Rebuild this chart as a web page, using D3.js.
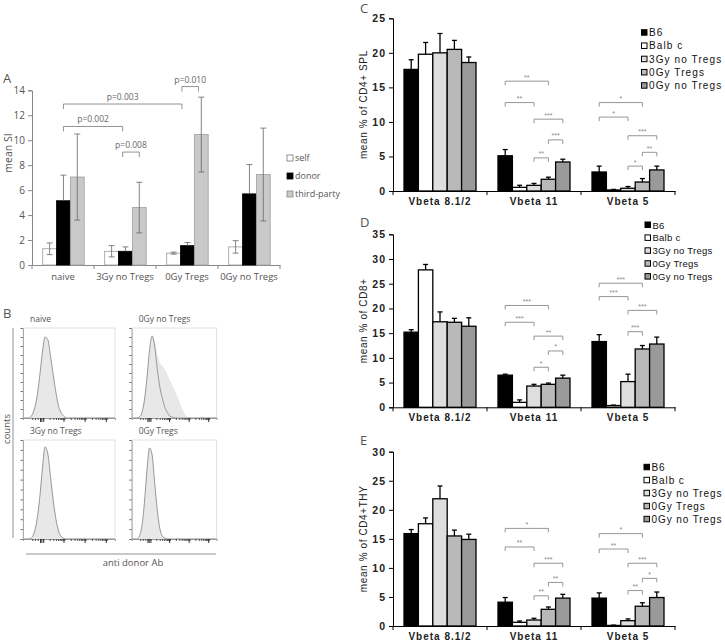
<!DOCTYPE html>
<html><head><meta charset="utf-8">
<script src="https://cdn.jsdelivr.net/npm/d3@7"></script>
<style>body{margin:0;background:#fff} svg{display:block}</style>
</head><body>
<svg id="c" width="725" height="641"></svg>
<script>
// ---------- Panel A data ----------
const aCategories = ["naive", "3Gy no Tregs", "0Gy Tregs", "0Gy no Tregs"];
const aSeries = ["self", "donor", "third-party"];
const aSelf = [1.3, 1.1, 0.95, 1.45];
const aSelfErr = [0.47, 0.45, 0.08, 0.5];
const aDonor = [5.15, 1.1, 1.55, 5.7];
const aDonorErr = [2.05, 0.35, 0.25, 2.35];
const aThird = [7.05, 4.6, 10.45, 7.25];
const aThirdErr = [3.45, 2.03, 3.0, 3.72];
const aYTicks = [0, 2, 4, 6, 8, 10, 12, 14];
// brackets: [category, position (bar units), category, position, y value, label]
const aBrackets = [
  ["0Gy Tregs", 1.1, "0Gy Tregs", 2.3, 14.3, "p=0.010"],
  ["naive", 1.5, "0Gy Tregs", 1.1, 12.9, "p=0.003"],
  ["naive", 1.5, "3Gy no Tregs", 1.3, 11.1, "p=0.002"],
  ["3Gy no Tregs", 1.3, "3Gy no Tregs", 2.5, 9.05, "p=0.008"]
];

// ---------- Panel B data (histograms, % of box) ----------
const histX = [0, 6, 9, 12, 15, 18, 21, 24, 27, 30, 33, 36, 39, 42, 45, 48, 51, 54, 57, 60, 63, 66, 70, 100];
const naiveFill = [0, 0, 2, 9, 22, 45, 72, 90, 87, 68, 47, 27, 12, 5, 1.5, 0, 0, 0, 0, 0, 0, 0, 0, 0];
const noTregsFill = [0, 0, 1, 6, 20, 45, 76, 92, 86, 72, 62, 58, 54, 48, 42, 36, 30, 23, 16, 9, 4, 1, 0, 0];
const noTregsLine = [0, 0, 1, 6, 20, 45, 76, 91, 80, 55, 35, 22, 12, 6, 2, 1, 0, 0, 0, 0, 0, 0, 0, 0];
const gy3NoTregsFill = [0, 0, 1, 6, 18, 40, 70, 93, 86, 62, 38, 19, 7, 2, 0.5, 0, 0, 0, 0, 0, 0, 0, 0, 0];
const gy0TregsFill = [0, 0, 3, 13, 37, 70, 92, 85, 57, 30, 11, 3, 1, 0, 0, 0, 0, 0, 0, 0, 0, 0, 0, 0];

// ---------- Panels C, D, E data ----------
const vCategories = ["Vbeta 8.1/2", "Vbeta 11", "Vbeta 5"];
const vSeries = ["B6", "Balb c", "3Gy no Tregs", "0Gy Tregs", "0Gy no Tregs"];
const vColors = ["#000000", "#ffffff", "#dedede", "#b9b9b9", "#9a9a9a"];
// rows = series, columns = categories
const splMeans = [[17.6, 5.1, 2.75], [19.8, 0.53, 0.15], [20.0, 0.82, 0.4], [20.5, 1.7, 1.3], [18.6, 4.2, 3.05]];
const splErr = [[1.4, 0.9, 0.85], [1.7, 0.3, 0.08], [2.8, 0.28, 0.25], [1.3, 0.3, 0.5], [0.8, 0.4, 0.55]];
const cd8Means = [[15.2, 6.5, 13.3], [27.8, 1.0, 0.35], [17.3, 4.3, 5.2], [17.2, 4.65, 11.8], [16.4, 5.9, 12.8]];
const cd8Err = [[0.5, 0.2, 1.4], [1.1, 0.5, 0.1], [2.0, 0.35, 1.5], [0.8, 0.25, 0.7], [1.7, 0.6, 1.4]];
const thyMeans = [[15.9, 4.1, 4.8], [17.6, 0.63, 0.1], [21.9, 1.03, 0.92], [15.5, 2.87, 3.4], [14.9, 4.8, 4.9]];
const thyErr = [[0.7, 0.8, 0.9], [1.0, 0.23, 0.05], [2.2, 0.3, 0.3], [1.0, 0.4, 0.6], [0.9, 0.65, 0.95]];
// brackets: [category index, from series, to series, y value, label]
const splBrackets = [[1,0,3,15.9,"**"],[1,0,2,12.8,"**"],[1,2,4,10.4,"***"],[1,3,4,7.4,"***"],[1,2,3,4.8,"**"],
  [2,0,3,12.8,"*"],[2,0,2,10.7,"*"],[2,2,4,8.0,"***"],[2,3,4,5.6,"**"],[2,2,3,3.6,"*"]];
const cd8Brackets = [[1,0,3,20.6,"***"],[1,0,2,17.2,"***"],[1,2,4,14.4,"**"],[1,3,4,11.4,"*"],[1,2,3,8.1,"*"],
  [2,0,3,25.1,"***"],[2,0,2,22.4,"***"],[2,2,4,19.6,"***"],[2,2,3,15.3,"***"]];
const thyBrackets = [[1,0,3,16.8,"*"],[1,0,2,13.6,"**"],[1,2,4,10.8,"***"],[1,3,4,7.5,"**"],[1,2,3,5.2,"**"],
  [2,0,3,15.9,"*"],[2,0,2,13.25,"**"],[2,2,4,10.8,"***"],[2,3,4,8.2,"*"],[2,2,3,6.1,"**"]];

const svg = d3.select("#c");
const FA = "'Open Sans', sans-serif";
const FV = "'Liberation Sans', Arial, sans-serif";

function letter(t, x, y) {
  svg.append("text").attr("x", x).attr("y", y).text(t)
    .attr("font-family", FA).attr("font-size", 13).attr("fill", "#555");
}

// ================= Panel A =================
(function () {
  const y = d3.scaleLinear().domain([0, 14]).range([265, 90.3]);
  const x0 = d3.scaleBand().domain(aCategories).range([32, 280]);
  const x1 = d3.scaleBand().domain(aSeries).range([10.7, 52.2]);
  const bw = x1.bandwidth();
  const g = svg.append("g");
  const yAx = g.append("g").attr("transform", "translate(32,0)")
    .call(d3.axisLeft(y).tickValues(aYTicks).tickSize(4).tickPadding(3));
  yAx.select(".domain").attr("stroke", "#888");
  yAx.selectAll(".tick line").attr("stroke", "#888");
  yAx.selectAll("text").attr("font-family", FA).attr("font-size", 10).attr("fill", "#555");
  // x axis
  const xAx = g.append("g").attr("transform", "translate(0,265)")
    .call(d3.axisBottom(x0).tickSize(0).tickPadding(8));
  xAx.select(".domain").attr("stroke", "#888");
  xAx.selectAll("text").attr("font-family", FA).attr("font-size", 9.5).attr("fill", "#555");
  const bounds = aCategories.map(c => x0(c)).concat([x0.range()[1]]);
  g.selectAll(".xt").data(bounds).enter().append("line")
    .attr("x1", d => d).attr("x2", d => d).attr("y1", 265).attr("y2", 269).attr("stroke", "#888");

  const series = [
    { vals: aSelf, err: aSelfErr, fill: "#fff", stroke: "#999", lo: true },
    { vals: aDonor, err: aDonorErr, fill: "#000", stroke: "#000", lo: false },
    { vals: aThird, err: aThirdErr, fill: "#c9c9c9", stroke: "#a0a0a0", lo: true }
  ];
  series.forEach((s, si) => {
    aCategories.forEach((c, ci) => {
      const bx = x0(c) + x1(aSeries[si]);
      g.append("rect").attr("x", bx).attr("y", y(s.vals[ci])).attr("width", bw)
        .attr("height", y(0) - y(s.vals[ci])).attr("fill", s.fill).attr("stroke", s.stroke).attr("stroke-width", 0.8);
    });
  });
  series.forEach((s, si) => {
    aCategories.forEach((c, ci) => {
      const cx = x0(c) + x1(aSeries[si]) + bw / 2;
      const hi = s.vals[ci] + s.err[ci];
      const lo = s.lo ? s.vals[ci] - s.err[ci] : s.vals[ci];
      g.append("line").attr("x1", cx).attr("x2", cx).attr("y1", y(lo)).attr("y2", y(hi)).attr("stroke", "#666").attr("stroke-width", 0.8);
      g.append("line").attr("x1", cx - 3).attr("x2", cx + 3).attr("y1", y(hi)).attr("y2", y(hi)).attr("stroke", "#666").attr("stroke-width", 0.8);
      if (s.lo) g.append("line").attr("x1", cx - 3).attr("x2", cx + 3).attr("y1", y(lo)).attr("y2", y(lo)).attr("stroke", "#666").attr("stroke-width", 0.8);
    });
  });
  // brackets
  aBrackets.forEach(b => {
    const xa = x0(b[0]) + x1.range()[0] + b[1] * bw;
    const xb = x0(b[2]) + x1.range()[0] + b[3] * bw;
    const yy = y(b[4]);
    g.append("path").attr("d", `M${xa},${yy + 5}V${yy}H${xb}V${yy + 5}`).attr("fill", "none").attr("stroke", "#777").attr("stroke-width", 0.8);
    g.append("text").attr("x", (xa + xb) / 2).attr("y", yy - 4).attr("text-anchor", "middle").text(b[5])
      .attr("font-family", FA).attr("font-size", 8.5).attr("fill", "#666");
  });
  // legend
  const lfill = ["#fff", "#000", "#c9c9c9"], lstroke = ["#777", "#000", "#888"];
  aSeries.forEach((s, i) => {
    const ly = 158 + i * 18;
    g.append("rect").attr("x", 287).attr("y", ly - 3).attr("width", 6).attr("height", 6).attr("fill", lfill[i]).attr("stroke", lstroke[i]).attr("stroke-width", 0.8);
    g.append("text").attr("x", 295).attr("y", ly + 3).text(s).attr("font-family", FA).attr("font-size", 9).attr("fill", "#555");
  });
  g.append("text").attr("transform", "translate(12,153) rotate(-90)").attr("text-anchor", "middle").text("mean SI")
    .attr("font-family", FA).attr("font-size", 10.5).attr("fill", "#555");
  letter("A", 3, 83);
})();

// ================= Panel B =================
function histPanel(box, title, fill, line) {
  const hx = d3.scaleLinear().domain([0, 100]).range([box[0], box[1]]);
  const hy = d3.scaleLinear().domain([0, 100]).range([box[3], box[2]]);
  const g = svg.append("g");
  g.append("rect").attr("x", box[0]).attr("y", box[2]).attr("width", box[1] - box[0]).attr("height", box[3] - box[2])
    .attr("fill", "none").attr("stroke", "#d9d9d9").attr("stroke-width", 0.8);
  const area = d3.area().x((d, i) => hx(histX[i])).y0(hy(0)).y1(d => hy(d)).curve(d3.curveMonotoneX);
  g.append("path").datum(fill).attr("d", area).attr("fill", "#e8e8e8");
  const ln = d3.line().x((d, i) => hx(histX[i])).y(d => hy(d)).curve(d3.curveMonotoneX);
  g.append("path").datum(line).attr("d", ln).attr("fill", "none").attr("stroke", "#8c8c8c").attr("stroke-width", 0.9);
  const la = g.append("g").attr("transform", `translate(${box[0]},0)`)
    .call(d3.axisLeft(hy).tickValues(d3.range(0, 101, 10)).tickSize(2.5).tickFormat(""));
  la.select(".domain").attr("stroke", "#aaa");
  la.selectAll(".tick line").attr("stroke", "#777");
  const lg = d3.scaleLog().domain([10, 1e4]).range([22, 91]);
  const minor = [10, 13, 16, 19].concat(lg.ticks().map(lg));
  const ba = g.append("g").attr("transform", `translate(0,${box[3]})`)
    .call(d3.axisBottom(hx).tickValues(minor).tickSize(2).tickFormat(""));
  ba.select(".domain").attr("stroke", "#999");
  ba.selectAll(".tick line").attr("stroke", "#555");
  const majors = [18.5, 20, 22, 44, 67, 90];
  const ma = g.append("g").attr("transform", `translate(0,${box[3]})`)
    .call(d3.axisBottom(hx).tickValues(majors).tickSize(4).tickFormat(""));
  ma.select(".domain").remove();
  ma.selectAll(".tick line").attr("stroke", "#333").attr("stroke-width", 1);
  g.append("text").attr("x", box[0] + 7).attr("y", box[2] - 6).text(title)
    .attr("font-family", FA).attr("font-size", 8.5).attr("fill", "#555");
}
histPanel([23, 115, 328, 418], "naive", naiveFill, naiveFill);
histPanel([131.7, 216.7, 328, 418], "0Gy no Tregs", noTregsFill, noTregsLine);
histPanel([23, 115, 440, 539], "3Gy no Tregs", gy3NoTregsFill, gy3NoTregsFill);
histPanel([131.7, 216.7, 440, 539], "0Gy Tregs", gy0TregsFill, gy0TregsFill);
svg.append("line").attr("x1", 13).attr("x2", 13).attr("y1", 328).attr("y2", 538).attr("stroke", "#777").attr("stroke-width", 0.8);
svg.append("line").attr("x1", 26).attr("x2", 216).attr("y1", 554).attr("y2", 554).attr("stroke", "#777").attr("stroke-width", 0.8);
svg.append("text").attr("transform", "translate(10,429) rotate(-90)").attr("text-anchor", "middle").text("counts")
  .attr("font-family", FA).attr("font-size", 9.5).attr("fill", "#555");
svg.append("text").attr("x", 133).attr("y", 566).attr("text-anchor", "middle").text("anti donor Ab")
  .attr("font-family", FA).attr("font-size", 9.5).attr("fill", "#555");
letter("B", 3, 318);

// ================= Panels C, D, E =================
function vbetaPanel(o) {
  const y = d3.scaleLinear().domain([0, o.yMax]).range([o.bottom, o.top]);
  const x0 = d3.scaleBand().domain(vCategories).range([393, 675]);
  const x1 = d3.scaleBand().domain(vSeries).range([11, 83]);
  const bw = x1.bandwidth();
  const g = svg.append("g");
  // bars
  vSeries.forEach((s, si) => {
    vCategories.forEach((c, ci) => {
      const v = o.means[si][ci];
      g.append("rect").attr("x", x0(c) + x1(s)).attr("y", y(v)).attr("width", bw).attr("height", y(0) - y(v))
        .attr("fill", vColors[si]).attr("stroke", "#000").attr("stroke-width", 1.3);
    });
  });
  // error bars (upper)
  vSeries.forEach((s, si) => {
    vCategories.forEach((c, ci) => {
      const v = o.means[si][ci], e = o.err[si][ci];
      const cx = x0(c) + x1(s) + bw / 2;
      g.append("line").attr("x1", cx).attr("x2", cx).attr("y1", y(v)).attr("y2", y(v + e)).attr("stroke", "#000").attr("stroke-width", 1.3);
      g.append("line").attr("x1", cx - 2.5).attr("x2", cx + 2.5).attr("y1", y(v + e)).attr("y2", y(v + e)).attr("stroke", "#000").attr("stroke-width", 1.3);
    });
  });
  // axes
  const ya = g.append("g").attr("transform", "translate(393,0)")
    .call(d3.axisLeft(y).ticks(o.yMax / 5).tickSize(4).tickPadding(3));
  ya.select(".domain").attr("stroke", "#000");
  ya.selectAll("text").attr("font-family", FV).attr("font-weight", "bold").attr("font-size", 10.5)
    .attr("letter-spacing", 1).attr("fill", "#222");
  const xa = g.append("g").attr("transform", `translate(0,${o.bottom})`)
    .call(d3.axisBottom(x0).tickSize(0).tickPadding(6.5));
  xa.select(".domain").attr("stroke", "#000");
  xa.selectAll("text").attr("font-family", FV).attr("font-weight", "bold").attr("font-size", 10)
    .attr("letter-spacing", 1).attr("fill", "#222");
  const bounds = vCategories.map(c => x0(c)).concat([x0.range()[1]]);
  g.selectAll(".xt").data(bounds).enter().append("line")
    .attr("x1", d => d).attr("x2", d => d).attr("y1", o.bottom).attr("y2", o.bottom + 4).attr("stroke", "#000");
  // brackets
  o.brackets.forEach(b => {
    const c = vCategories[b[0]];
    const xa_ = x0(c) + x1(vSeries[b[1]]) + bw / 2;
    const xb_ = x0(c) + x1(vSeries[b[2]]) + bw / 2;
    const yy = y(b[3]);
    g.append("path").attr("d", `M${xa_},${yy + 4}V${yy}H${xb_}V${yy + 4}`).attr("fill", "none").attr("stroke", "#8a8a8a").attr("stroke-width", 0.9);
    g.append("text").attr("x", (xa_ + xb_) / 2).attr("y", yy - 1.5).attr("text-anchor", "middle").text(b[4])
      .attr("font-family", FV).attr("font-size", 7).attr("fill", "#888");
  });
  // legend
  vSeries.forEach((s, i) => {
    const ly = o.legY + i * o.legStep;
    g.append("rect").attr("x", o.legX).attr("y", ly - 3).attr("width", 5.5).attr("height", 5.5)
      .attr("fill", vColors[i]).attr("stroke", "#000").attr("stroke-width", 1);
    g.append("text").attr("x", o.legX + 7.5).attr("y", ly + 3.5).text(s)
      .attr("font-family", FV).attr("font-size", o.legFont)
      .attr("letter-spacing", o.legSpace).attr("fill", "#111");
  });
  g.append("text").attr("transform", `translate(367,${(o.top + o.bottom) / 2}) rotate(-90)`).attr("text-anchor", "middle")
    .text(o.ylabel).attr("font-family", FV).attr("font-size", 10).attr("letter-spacing", 0.6).attr("fill", "#222");
}
vbetaPanel({ means: splMeans, err: splErr, brackets: splBrackets, yMax: 25, top: 18.3, bottom: 191,
  legX: 641.5, legY: 32.7, legStep: 13.25, legFont: 10, legSpace: 1.1, ylabel: "mean % of CD4+ SPL" });
vbetaPanel({ means: cd8Means, err: cd8Err, brackets: cd8Brackets, yMax: 35, top: 234.3, bottom: 407.3,
  legX: 645, legY: 225, legStep: 12.9, legFont: 9.5, legSpace: 0.25, ylabel: "mean % of CD8+" });
vbetaPanel({ means: thyMeans, err: thyErr, brackets: thyBrackets, yMax: 30, top: 451.7, bottom: 626,
  legX: 644, legY: 467.3, legStep: 13, legFont: 10, legSpace: 0.9, ylabel: "mean % of CD4+THY" });
letter("C", 360, 13);
letter("D", 360, 227);
letter("E", 360, 445);
</script></body></html>
